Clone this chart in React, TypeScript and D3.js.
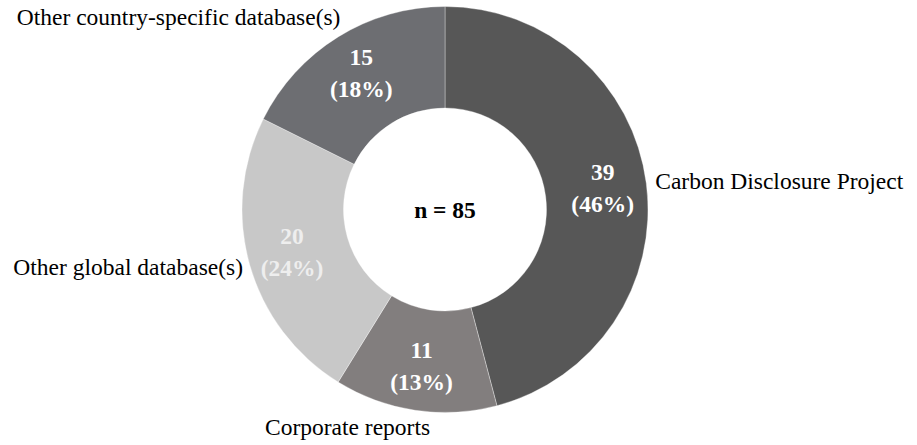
import React from "react";
import * as d3 from "d3";

const categories = [
  "Carbon Disclosure Project",
  "Corporate reports",
  "Other global database(s)",
  "Other country-specific database(s)",
];
const values = [39, 11, 20, 15];
const percents = ["46%", "13%", "24%", "18%"];
const total = 85;

const colors = ["#575757", "#827e7e", "#c8c8c8", "#6d6e72"];
const innerLabelColors = ["#ffffff", "#ffffff", "#eeeeee", "#ffffff"];
// layout nudges for the outside category labels: [anchor, dx, dy]
const outerLabelLayout: [string, number, number][] = [
  ["start", 2, 7],
  ["end", 16, 18],
  ["end", 0, 8],
  ["end", 6, -6],
];

const W = 917;
const H = 445;
const cx = 445;
const cy = 209.5;
const rOuter = 203;
const rInner = 101.5;
const FONT = "Liberation Serif, Times New Roman, serif";
const FS = 23.5;

export default function App() {
  const pie = d3
    .pie<number>()
    .sort(null)
    .value((d) => d);
  const arcs = pie(values);
  const arc = d3.arc<d3.PieArcDatum<number>>().innerRadius(rInner).outerRadius(rOuter);
  const labelArc = d3.arc<d3.PieArcDatum<number>>().innerRadius(159).outerRadius(159);
  const outerArc = d3.arc<d3.PieArcDatum<number>>().innerRadius(210).outerRadius(210);

  return (
    <svg
      width={W}
      height={H}
      style={{ position: "absolute", left: 0, top: 0, background: "#fff", fontFamily: FONT }}
    >
      <g transform={`translate(${cx},${cy})`}>
        {arcs.map((a, i) => (
          <path
            key={i}
            d={arc(a) || ""}
            fill={colors[i]}
            stroke="#ffffff"
            strokeOpacity={0.45}
            strokeWidth={0.75}
          />
        ))}
        {arcs.map((a, i) => {
          const [x, y] = labelArc.centroid(a);
          return (
            <text
              key={"v" + i}
              x={x}
              textAnchor="middle"
              fontWeight="bold"
              fontSize={FS}
              fill={innerLabelColors[i]}
            >
              <tspan x={x} y={y - 9}>
                {values[i]}
              </tspan>
              <tspan x={x} y={y + 23}>
                ({percents[i]})
              </tspan>
            </text>
          );
        })}
        {arcs.map((a, i) => {
          const [x, y] = outerArc.centroid(a);
          const [anchor, dx, dy] = outerLabelLayout[i];
          return (
            <text
              key={"c" + i}
              x={x + dx}
              y={y + dy}
              textAnchor={anchor as any}
              fontSize={FS}
              fill="#000"
            >
              {categories[i]}
            </text>
          );
        })}
        <text x={0} y={8} textAnchor="middle" fontWeight="bold" fontSize={FS} fill="#000">
          n = {total}
        </text>
      </g>
    </svg>
  );
}
